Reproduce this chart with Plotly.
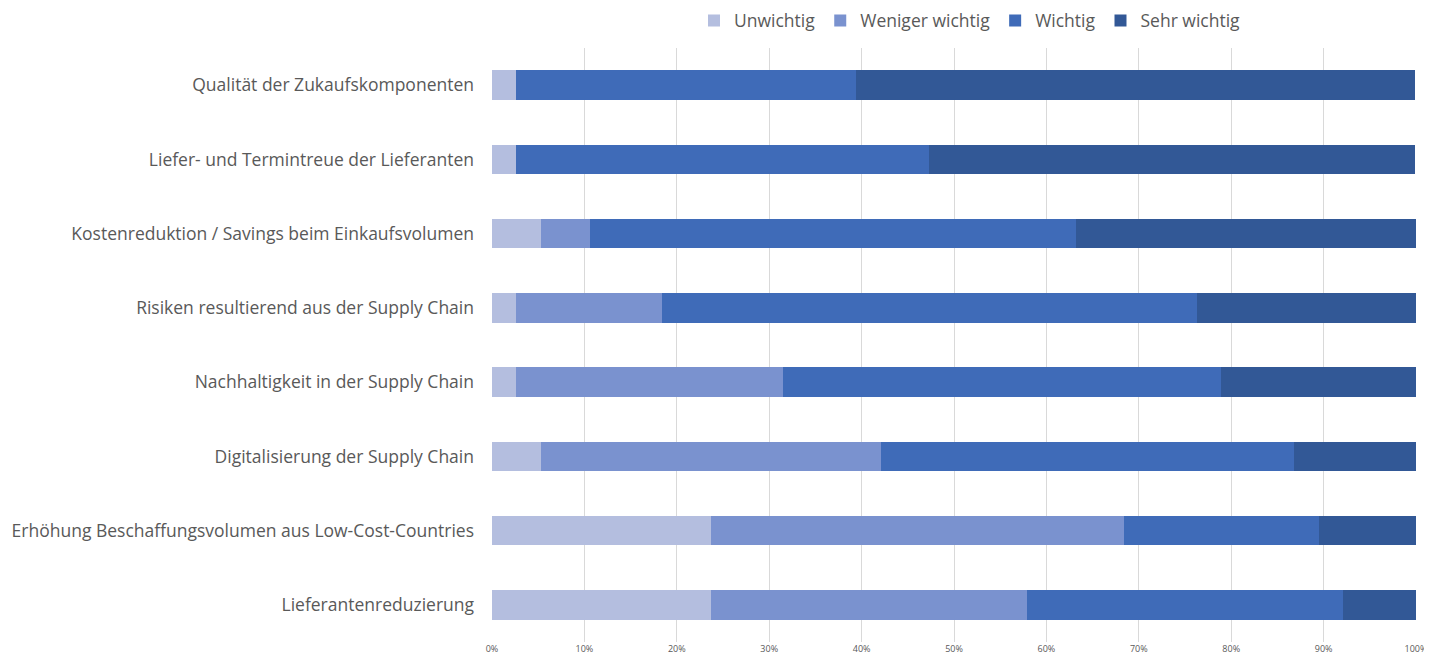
import plotly.graph_objects as go

categories = [
    "Qualität der Zukaufskomponenten",
    "Liefer- und Termintreue der Lieferanten",
    "Kostenreduktion / Savings beim Einkaufsvolumen",
    "Risiken resultierend aus der Supply Chain",
    "Nachhaltigkeit in der Supply Chain",
    "Digitalisierung der Supply Chain",
    "Erhöhung Beschaffungsvolumen aus Low-Cost-Countries",
    "Lieferantenreduzierung",
]
unwichtig = [2.6, 2.6, 5.3, 2.6, 2.6, 5.3, 23.7, 23.7]
weniger_wichtig = [0.0, 0.0, 5.3, 15.8, 28.9, 36.8, 44.7, 34.2]
wichtig = [36.8, 44.7, 52.6, 57.9, 47.4, 44.7, 21.1, 34.2]
sehr_wichtig = [60.5, 52.6, 36.8, 23.7, 21.1, 13.2, 10.5, 7.9]

series = [
    ("Unwichtig", unwichtig, "#B4BEDF"),
    ("Weniger wichtig", weniger_wichtig, "#7A92CF"),
    ("Wichtig", wichtig, "#3F6BB8"),
    ("Sehr wichtig", sehr_wichtig, "#325896"),
]

W, H = 1424, 655

fig = go.Figure()
for name, vals, color in series:
    fig.add_trace(go.Bar(
        y=categories, x=vals, name=name, orientation="h",
        marker=dict(color=color, line=dict(width=0)),
    ))

fig.update_layout(
    barmode="stack",
    bargap=0.6,
    width=W, height=H,
    margin=dict(l=484, r=16, t=40, b=21, autoexpand=False),
    paper_bgcolor="white", plot_bgcolor="white",
    font=dict(family="Open Sans, Noto Sans, sans-serif", color="#595959"),
    legend=dict(orientation="h", x=(962) / W, xanchor="center",
                y=1 - 12.5 / H, yanchor="middle",
                xref="container", yref="container",
                font=dict(size=17.5, color="#595959"), traceorder="normal",
                itemwidth=30),
    xaxis=dict(range=[0, 100], tickvals=list(range(0, 101, 10)),
               ticktext=[f"{v}%" for v in range(0, 101, 10)],
               tickfont=dict(size=9, color="#595959"), automargin=False,
               showgrid=True, gridcolor="#D9D9D9", gridwidth=1,
               zeroline=False, showline=False, ticks=""),
    yaxis=dict(autorange="reversed", tickfont=dict(size=17.5, color="#595959"),
               automargin=False, ticklabelstandoff=17,
               showgrid=False, showline=False, ticks="", ticklen=0),
    showlegend=True,
)

fig.write_html("out.html")
